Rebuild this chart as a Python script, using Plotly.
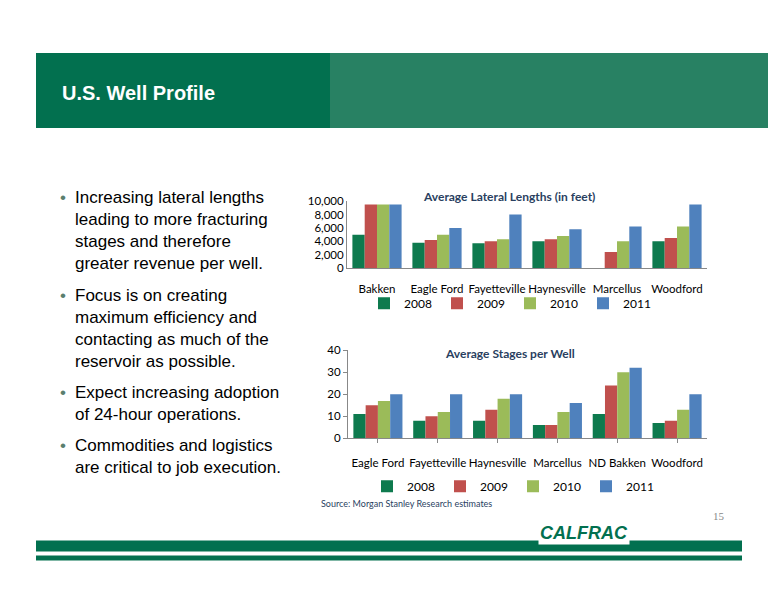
import plotly.graph_objects as go

years = ["2008", "2009", "2010", "2011"]
colors = ["#0E7A4E", "#C0504D", "#9BBB59", "#4F81BD"]

lat_cats = ["Bakken", "Eagle Ford", "Fayetteville", "Haynesville", "Marcellus", "Woodford"]
lat_2008 = [5000, 3800, 3700, 4000, None, 4000]
lat_2009 = [9500, 4200, 4000, 4300, 2400, 4500]
lat_2010 = [9500, 5000, 4300, 4800, 4000, 6200]
lat_2011 = [9500, 6000, 8000, 5800, 6200, 9500]

stg_cats = ["Eagle Ford", "Fayetteville", "Haynesville", "Marcellus", "ND Bakken", "Woodford"]
stg_2008 = [11, 8, 8, 6, 11, 7]
stg_2009 = [15, 10, 13, 6, 24, 8]
stg_2010 = [17, 12, 18, 12, 30, 13]
stg_2011 = [20, 20, 20, 16, 32, 20]

bullets = [
    "Increasing lateral lengths<br>leading to more fracturing<br>stages and therefore<br>greater revenue per well.",
    "Focus is on creating<br>maximum efficiency and<br>contacting as much of the<br>reservoir as possible.",
    "Expect increasing adoption<br>of 24-hour operations.",
    "Commodities and logistics<br>are critical to job execution.",
]

# page body has an 8px margin, so keep the figure inside the window
OFF = 8
W, H = 776 - 2 * OFF, 600 - 2 * OFF


def px(x):
    return (x - OFF) / W


def py(y):
    # the photographed page comes out slightly squashed vertically
    y = (y - 7.2) / 0.977
    return 1 - (y - OFF) / H


fig = go.Figure()
for i, vals in enumerate([lat_2008, lat_2009, lat_2010, lat_2011]):
    fig.add_trace(go.Bar(x=lat_cats, y=vals, name=years[i], marker_color=colors[i],
                         marker_line_width=0, xaxis="x", yaxis="y", legend="legend"))
for i, vals in enumerate([stg_2008, stg_2009, stg_2010, stg_2011]):
    fig.add_trace(go.Bar(x=stg_cats, y=vals, name=years[i], marker_color=colors[i],
                         marker_line_width=0, xaxis="x2", yaxis="y2", legend="legend2"))

axfont = dict(family="Lato, Open Sans", size=11.5, color="#000")
legfont = dict(family="Lato, Open Sans", size=12, color="#000")
fig.update_layout(
    width=W, height=H, margin=dict(l=0, r=0, t=0, b=0),
    paper_bgcolor="white", plot_bgcolor="white", barmode="group",
    bargap=0.18, bargroupgap=0.0, showlegend=True,
    xaxis=dict(domain=[px(347), px(707)], anchor="y", showline=True, linecolor="#888",
               tickfont=axfont, ticks="", ticklabelstandoff=10, tickangle=0),
    yaxis=dict(domain=[py(268), py(201)], anchor="x", range=[0, 10000], dtick=2000,
               tickformat=",", showgrid=False, tickfont=axfont, showline=True, linecolor="#888"),
    xaxis2=dict(domain=[px(348), px(707)], anchor="y2", showline=True, linecolor="#888",
                tickfont=axfont, ticks="outside", ticklen=4, tickcolor="#888",
                ticklabelstandoff=10, tickangle=0),
    yaxis2=dict(domain=[py(438), py(350)], anchor="x2", range=[0, 40], dtick=10,
                showgrid=False, tickfont=axfont, showline=True, linecolor="#888",
                ticks="outside", ticklen=4, tickcolor="#888"),
    legend=dict(orientation="h", x=px(510), xanchor="center", y=py(303), yanchor="middle",
                font=legfont, entrywidth=28, itemwidth=30, bgcolor="rgba(0,0,0,0)"),
    legend2=dict(orientation="h", x=px(513), xanchor="center", y=py(486), yanchor="middle",
                 font=legfont, entrywidth=28, itemwidth=30, bgcolor="rgba(0,0,0,0)"),
)

# header band
fig.add_shape(type="rect", xref="paper", yref="paper", x0=px(36), x1=px(790), y0=py(128), y1=py(53),
              fillcolor="#02704F", line_width=0, layer="below")
fig.add_shape(type="rect", xref="paper", yref="paper", x0=px(330), x1=px(790), y0=py(128), y1=py(53),
              fillcolor="#6FA08A", opacity=0.35, line_width=0, layer="below")
fig.add_annotation(text="<b>U.S. Well Profile</b>", xref="paper", yref="paper", x=px(60), y=py(93),
                   xanchor="left", yanchor="middle", showarrow=False,
                   font=dict(family="Liberation Sans", size=20, color="white"))

# chart titles
fig.add_annotation(text="<b>Average Lateral Lengths (in feet)</b>", xref="paper", yref="paper",
                   x=px(509), y=py(187), showarrow=False, font=dict(family="Lato", size=12))
fig.add_annotation(text="<b>Average Stages per Well</b>", xref="paper", yref="paper",
                   x=px(510), y=py(353), showarrow=False, font=dict(family="Lato", size=12))
fig.add_annotation(text="Source: Morgan Stanley Research estimates", xref="paper", yref="paper",
                   x=px(406), y=py(511), showarrow=False, font=dict(family="Lato", size=9))

# bullets
bullet_y = [186, 284, 381, 434]
for b, yy in zip(bullets, bullet_y):
    fig.add_annotation(text="•", xref="paper", yref="paper", x=px(58), y=py(yy),
                       xanchor="left", yanchor="top", showarrow=False,
                       font=dict(family="Liberation Sans", size=17, color="#5A7F6E"))
    fig.add_annotation(text=b, xref="paper", yref="paper", x=px(73),
                       y=py(yy), xanchor="left", yanchor="top", align="left", showarrow=False,
                       font=dict(family="Liberation Sans", size=17, color="#000"))

# footer
for y0, y1 in [(540, 551), (555, 560)]:
    fig.add_shape(type="rect", xref="paper", yref="paper", x0=px(36), x1=px(742),
                  y0=py(y1), y1=py(y0), fillcolor="#02704F", line_width=0)
fig.add_annotation(text="<b><i>CALFRAC</i></b>", xref="paper", yref="paper", x=px(630), y=py(545),
                   showarrow=False, bgcolor="white", font=dict(family="Liberation Sans", size=18, color="#02704F"))
fig.add_annotation(text="15", xref="paper", yref="paper", x=px(727), y=py(524),
                   showarrow=False, font=dict(family="Liberation Serif", size=11, color="#888"))

fig.write_html("out.html")
